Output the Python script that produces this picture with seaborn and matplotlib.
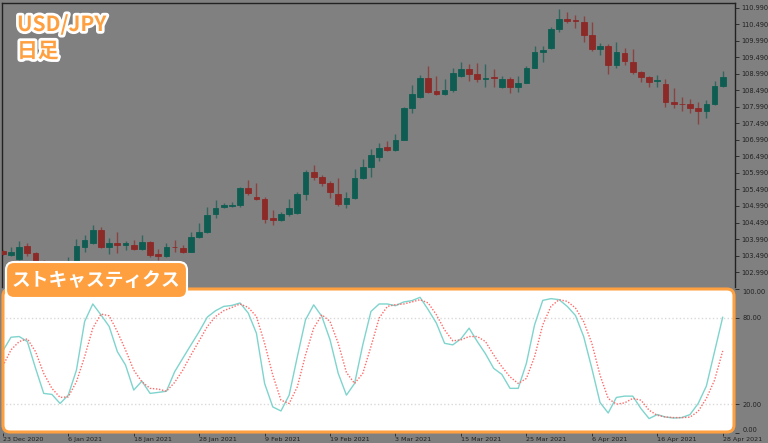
import numpy as np
import pandas as pd
import matplotlib
matplotlib.use('Agg')
import matplotlib.pyplot as plt
import matplotlib.patheffects as pe
import seaborn as sns
from matplotlib.patches import FancyBboxPatch
from matplotlib.transforms import IdentityTransform

# daily USD/JPY candles, 23 Dec 2020 - 28 Apr 2021
opens = [103.63, 103.52, 103.39, 103.78, 103.57, 103.28, 103.12, 102.98, 103.05, 103.25,
         103.76, 103.86, 104.26, 103.76, 103.86, 103.80, 103.81, 103.68, 103.90, 103.53,
         103.47, 103.75, 103.73, 103.61, 104.06, 104.21, 104.74, 104.95, 104.98, 105.02,
         105.53, 105.27, 105.20, 104.62, 104.57, 104.74, 104.77, 105.35, 106.03, 105.86,
         105.68, 105.35, 105.05, 105.24, 105.83, 106.16, 106.48, 106.77, 106.69, 106.99,
         107.97, 108.28, 108.87, 108.47, 108.37, 108.50, 108.94, 109.13, 108.99, 108.83,
         108.89, 108.59, 108.84, 108.59, 108.73, 109.18, 109.67, 109.77, 110.35, 110.66,
         110.61, 110.56, 110.17, 109.74, 109.84, 109.26, 109.62, 109.36, 109.05, 108.89,
         108.77, 108.69, 108.14, 108.08, 108.07, 107.96, 107.88, 108.07, 108.64]
highs = [103.66, 103.76, 103.93, 103.86, 103.60, 103.35, 103.20, 103.15, 103.44, 103.98,
         104.11, 104.41, 104.35, 104.01, 104.20, 103.94, 103.96, 104.10, 103.94, 103.68,
         103.88, 103.96, 103.81, 104.21, 104.46, 104.95, 105.17, 105.07, 105.10, 105.56,
         105.78, 105.68, 105.27, 104.87, 104.80, 105.20, 105.42, 106.08, 106.23, 105.93,
         105.75, 105.85, 105.42, 106.11, 106.40, 106.71, 106.89, 106.97, 107.17, 108.00,
         108.66, 108.96, 109.23, 108.93, 108.83, 109.16, 109.36, 109.28, 109.31, 109.29,
         109.13, 108.94, 108.89, 108.92, 109.23, 109.84, 109.84, 110.42, 110.96, 110.86,
         110.78, 110.76, 110.56, 109.94, 109.90, 109.97, 109.77, 109.75, 109.09, 108.93,
         108.96, 108.84, 108.56, 108.28, 108.23, 108.15, 108.20, 108.78, 109.08]
lows = [103.50, 103.47, 103.35, 103.47, 103.20, 103.05, 102.88, 102.90, 102.99, 103.22,
        103.61, 103.83, 103.71, 103.53, 103.57, 103.66, 103.66, 103.66, 103.45, 103.35,
        103.45, 103.61, 103.57, 103.60, 104.03, 104.18, 104.63, 104.93, 104.96, 104.97,
        105.32, 105.17, 104.48, 104.42, 104.55, 104.69, 104.76, 105.17, 105.78, 105.60,
        105.24, 104.99, 104.94, 105.19, 105.80, 105.86, 106.36, 106.67, 106.67, 106.98,
        107.82, 108.25, 108.40, 108.34, 108.35, 108.45, 108.89, 108.78, 108.76, 108.61,
        108.59, 108.56, 108.40, 108.45, 108.71, 109.16, 109.36, 109.74, 110.27, 110.53,
        110.37, 109.97, 109.70, 109.57, 108.99, 109.16, 109.26, 108.99, 108.76, 108.60,
        108.60, 108.00, 107.95, 107.88, 107.82, 107.47, 107.65, 108.05, 108.60]
closes = [103.53, 103.60, 103.76, 103.57, 103.28, 103.12, 102.98, 103.05, 103.25, 103.78,
          103.96, 104.26, 103.76, 103.86, 103.80, 103.86, 103.68, 103.90, 103.52, 103.47,
          103.76, 103.74, 103.61, 104.06, 104.21, 104.72, 104.92, 105.01, 105.02, 105.53,
          105.37, 105.19, 104.60, 104.57, 104.75, 104.92, 105.35, 106.03, 105.86, 105.70,
          105.40, 105.05, 105.24, 105.83, 106.16, 106.53, 106.76, 106.69, 106.99, 107.97,
          108.38, 108.87, 108.45, 108.37, 108.50, 109.03, 109.13, 108.99, 108.84, 108.88,
          108.88, 108.84, 108.59, 108.73, 109.18, 109.67, 109.72, 110.35, 110.66, 110.58,
          110.59, 110.17, 109.74, 109.84, 109.26, 109.65, 109.38, 109.06, 108.89, 108.76,
          108.80, 108.13, 108.08, 108.07, 107.95, 107.88, 108.08, 108.64, 108.91]

# stochastic %K (main) and %D (signal)
stoch_k = [57, 66.5, 67, 63.5, 45, 27.5, 26.8, 20.5, 26.3, 43.7,
           77.4, 89.6, 82, 74, 56.5, 47.2, 29.8, 36, 27.5, 28.2,
           29, 42.5, 51.9, 61.2, 70.4, 80.5, 84.9, 87.9, 88.6, 90.3,
           83.3, 69.3, 34.4, 18.1, 15.3, 26.3, 53, 78.6, 89, 80.9,
           64.7, 41.4, 26.3, 34.4, 61.2, 84.4, 89.6, 89.6, 88.4, 91,
           91.9, 94.2, 85.6, 76.3, 62.3, 61.2, 65.4, 72.8, 63.5, 55,
           44.9, 40.7, 31, 31, 48.4, 75.1, 92.1, 93.3, 92.6, 87.9,
           81.6, 67, 44.9, 21.2, 13.9, 24.7, 25.6, 25.6, 17, 10,
           12.8, 11.1, 10.4, 10.7, 12.8, 20.5, 32.6, 56.5, 80.5]
stoch_d = [46.5, 57.7, 63.5, 65.4, 56.5, 41.4, 31, 24.7, 25.1, 35.6,
           53, 72.8, 82.6, 81.4, 70.4, 57.7, 43.7, 35.6, 31, 30.5,
           29, 35.1, 43.7, 54.2, 64, 74, 80.9, 84.9, 87.2, 89.6,
           87.2, 80.9, 62.3, 40.2, 22.8, 20.5, 32.1, 54.2, 72.8, 82.1,
           77.4, 62.3, 42.1, 34.4, 41.4, 60, 79.8, 87.9, 89.1, 89.6,
           91, 92.6, 90.3, 82.1, 71.6, 64, 64.7, 67, 67, 63.5,
           54.2, 46, 39, 34.4, 37.9, 53, 75.1, 87.9, 92.6, 91.4,
           86.8, 77.4, 62.3, 40.2, 24, 20, 20.9, 24, 22.8, 15.8,
           12.3, 11.1, 10.7, 10.7, 11, 15.1, 24, 36.7, 57]

date_labels = ["23 Dec 2020", "6 Jan 2021", "18 Jan 2021", "28 Jan 2021",
               "9 Feb 2021", "19 Feb 2021", "3 Mar 2021", "15 Mar 2021",
               "25 Mar 2021", "6 Apr 2021", "16 Apr 2021", "28 Apr 2021"]
price_ticks = np.arange(102.99, 111.0, 0.5)
stoch_ticks = [0, 20, 80, 100]

BG = "#808080"
UP = "#0f5d52"
DOWN = "#8c2a28"
ORANGE = "#ffa040"
AXIS_C = "#222222"

sns.set_style("white")
plt.rcParams['font.family'] = ['Noto Sans CJK JP', 'DejaVu Sans']

W, H = 768, 443
fig = plt.figure(figsize=(W / 100, H / 100), dpi=100, facecolor=BG)


def frac(x0, y0, x1, y1):
    return [x0 / W, 1 - y1 / H, (x1 - x0) / W, (y1 - y0) / H]


bars = np.arange(len(closes))
xlim = (-0.1, 89.5)

# price chart
ax_p = fig.add_axes(frac(2, 3, 735, 287))
ax_p.set_facecolor(BG)
o = np.array(opens)
c = np.array(closes)
up = c >= o
colors = np.where(up, UP, DOWN)
ax_p.vlines(bars, lows, highs, colors=colors, linewidth=1, alpha=0.7, zorder=2)
body_low = np.minimum(o, c)
body_h = np.maximum(np.abs(c - o), 0.02)
ax_p.bar(bars, body_h, bottom=body_low, width=0.7, color=colors,
         edgecolor=colors, linewidth=0.6, zorder=3)
ax_p.set_xlim(*xlim)
ax_p.set_ylim(102.536, 111.14)
ax_p.set_xticks([])
ax_p.yaxis.tick_right()
ax_p.set_yticks(price_ticks)
ax_p.set_yticklabels([f"{t:.3f}" for t in price_ticks])
ax_p.tick_params(axis="y", right=True, length=3, width=0.6, pad=1.5,
                 labelsize=4.8, colors=AXIS_C)
for name, sp in ax_p.spines.items():
    sp.set_color(AXIS_C)
    sp.set_linewidth(1)
ax_p.spines["bottom"].set_visible(False)

# stochastic panel
ax_s = fig.add_axes(frac(2, 289, 735, 433))
ax_s.set_facecolor("none")
df = pd.DataFrame({"bar": bars, "k": stoch_k, "d": stoch_d})
ax_s.axhline(80, color="#d9d9d9", linestyle=":", linewidth=1, zorder=1)
ax_s.axhline(20, color="#d9d9d9", linestyle=":", linewidth=1, zorder=1)
sns.lineplot(data=df, x="bar", y="k", ax=ax_s, color="#7fd4cd", linewidth=1, zorder=3)
sns.lineplot(data=df, x="bar", y="d", ax=ax_s, color="#ff6a6a", linewidth=1,
             linestyle=(0, (1, 1.2)), zorder=4)
ax_s.set_xlim(*xlim)
ax_s.set_ylim(0, 100)
ax_s.set_xlabel("")
ax_s.set_ylabel("")
ax_s.yaxis.tick_right()
ax_s.set_yticks(stoch_ticks)
ax_s.set_yticklabels([f"{t:.2f}" for t in stoch_ticks])
ax_s.set_xticks(np.arange(0, 89, 8))
ax_s.set_xticklabels(date_labels, ha="left")
ax_s.tick_params(axis="x", length=2.5, width=0.6, pad=0.3, labelsize=4.6,
                 colors=AXIS_C, bottom=True)
ax_s.tick_params(axis="y", length=3, width=0.6, pad=2.5, labelsize=4.8,
                 colors=AXIS_C, right=True)
for sp in ax_s.spines.values():
    sp.set_visible(False)
ylabels = ax_s.get_yticklabels()
ylabels[0].set_va("bottom")
ylabels[-1].set_va("top")
for lab in ax_s.get_xticklabels() + ax_s.get_yticklabels() + ax_p.get_yticklabels():
    lab.set_fontfamily("DejaVu Sans")

# white rounded panel with orange frame (in pixels)
px = IdentityTransform()
fill = FancyBboxPatch((3, H - 432), 731, 143, boxstyle="round,pad=0,rounding_size=7",
                      transform=px, facecolor="white", edgecolor="none", zorder=-1)
frame = FancyBboxPatch((3, H - 432), 731, 143, boxstyle="round,pad=0,rounding_size=7",
                       transform=px, facecolor="none", edgecolor=ORANGE,
                       linewidth=2.2, zorder=5)
fig.add_artist(fill)
fig.add_artist(frame)

label_box = FancyBboxPatch((6, H - 298), 181, 36, boxstyle="round,pad=0,rounding_size=8",
                           transform=px, facecolor=ORANGE, edgecolor="white",
                           linewidth=1.5, zorder=6)
fig.add_artist(label_box)
fig.text(96 / W, 1 - 281 / H, "ストキャスティクス", color="white", fontsize=13.5,
         fontweight="bold", ha="center", va="center", zorder=7)

# title
halo = [pe.withStroke(linewidth=4, foreground="white")]
fig.text(17 / W, 1 - 24.5 / H, "USD/JPY", color=ORANGE, fontsize=15, fontweight="bold",
         ha="left", va="center", path_effects=halo, zorder=7)
fig.text(17 / W, 1 - 51 / H, "日足", color=ORANGE, fontsize=15, fontweight="bold",
         ha="left", va="center", path_effects=halo, zorder=7)

fig.savefig("out.png", dpi=100, facecolor=BG)
plt.close("all")
